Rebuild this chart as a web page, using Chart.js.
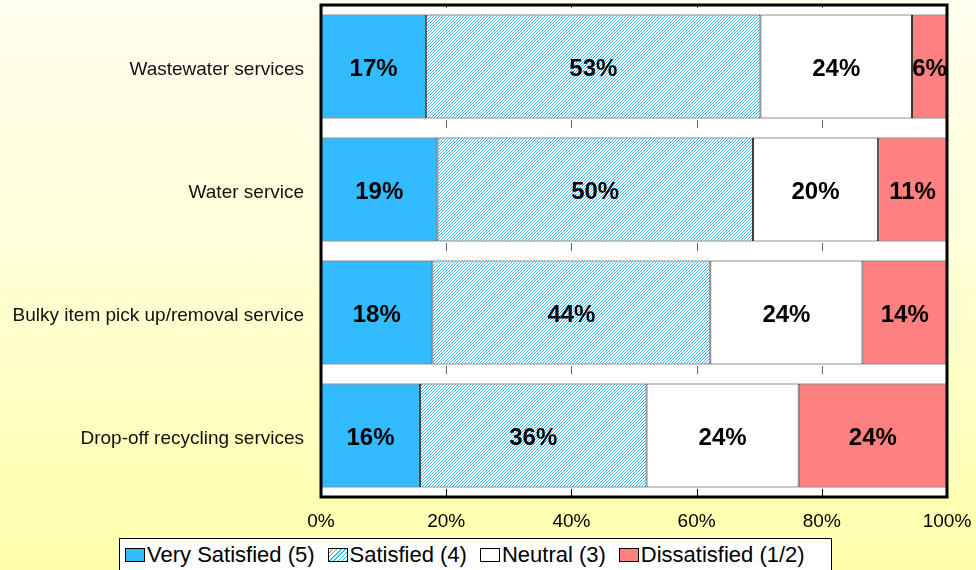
<!DOCTYPE html>
<html>
<head>
<meta charset="utf-8">
<script src="https://cdn.jsdelivr.net/npm/chart.js@4.4.1/dist/chart.umd.min.js"></script>
<style>
  html, body { margin: 0; padding: 0; }
  body { width: 976px; height: 570px; overflow: hidden; background: linear-gradient(to bottom, #FFFFEE 0%, #FFFFD8 45%, #FFFFAA 100%); font-family: "Liberation Sans", Arial, sans-serif; }
  #wrap { position: relative; width: 976px; height: 570px; }
  #legend { position: absolute; left: 119px; top: 538px; width: 711px; height: 31px; background: #fff; border: 1px solid #000; display: flex; align-items: center; font-size: 22px; color: #000; white-space: nowrap; }
  #legend .item { display: flex; align-items: center; margin-left: 5px; margin-right: 8px; }
  #legend .sw { width: 20px; height: 14px; border: 1px solid #000; margin-right: 2px; box-sizing: border-box; }
</style>
</head>
<body>
<div id="wrap">
  <canvas id="chart"></canvas>
  <div id="legend"></div>
</div>
<script>
// survey results (percent of respondents)
const categories = ["Wastewater services", "Water service", "Bulky item pick up/removal service", "Drop-off recycling services"];
const seriesNames = ["Very Satisfied (5)", "Satisfied (4)", "Neutral (3)", "Dissatisfied (1/2)"];
const verySatisfied = [16.8, 18.6, 17.8, 15.8];
const satisfied = [53.4, 50.4, 44.4, 36.2];
const neutral = [24.2, 20.0, 24.3, 24.3];
const dissatisfied = [5.6, 11.0, 13.5, 23.7];
const xTicks = [0, 20, 40, 60, 80, 100];

const FONT = "'Liberation Sans', Arial, sans-serif";
const BLUE = "#33BBFF", RED = "#FF8080";

// diagonal hatch for "Satisfied"
function hatch() {
    const c = document.createElement("canvas"); c.width = 6; c.height = 6;
    const g = c.getContext("2d");
    g.fillStyle = "#fff"; g.fillRect(0, 0, 6, 6);
    g.fillStyle = BLUE;
    for (let x = 0; x < 6; x++) { g.fillRect(x, 5 - x, 1, 1); g.fillRect(x, (8 - x) % 6, 1, 1); }
    return g.createPattern(c, "repeat");
}
const hatchFill = hatch();
const fills = [BLUE, hatchFill, "#FFFFFF", RED];

const noPad = s => { s.paddingTop = 0; s.paddingBottom = 0; s.paddingLeft = 0; s.paddingRight = 0; };

const plotBg = {
    id: "plotBg",
    beforeDraw(chart) {
        const { ctx, chartArea: a } = chart;
        ctx.save(); ctx.fillStyle = "#fff"; ctx.fillRect(a.left, a.top, a.right - a.left, a.bottom - a.top); ctx.restore();
    },
    afterDatasetsDraw(chart) {
        const { ctx, chartArea: a, scales } = chart;
        ctx.save();
        // little tick marks at each category boundary
        const y = scales.y, x = scales.x;
        const bounds = [];
        for (let i = 0; i < categories.length - 1; i++) bounds.push((y.getPixelForValue(i) + y.getPixelForValue(i + 1)) / 2);
        bounds.push(a.bottom);
        ctx.lineWidth = 1;
        xTicks.slice(1, -1).forEach(v => {
            const px = Math.round(x.getPixelForValue(v)) + 0.5;
            bounds.forEach((b, i) => {
                ctx.strokeStyle = i === bounds.length - 1 ? "#000" : "#666";
                ctx.beginPath(); ctx.moveTo(px, b - 8); ctx.lineTo(px, b); ctx.stroke();
            });
            ctx.strokeStyle = "#666";
            ctx.beginPath(); ctx.moveTo(px, a.top); ctx.lineTo(px, a.top + 3); ctx.stroke();
        });
        // value labels
        ctx.font = "bold 24px " + FONT; ctx.fillStyle = "#000"; ctx.textAlign = "center"; ctx.textBaseline = "middle";
        chart.data.datasets.forEach((ds, di) => {
            chart.getDatasetMeta(di).data.forEach((bar, i) => {
                ctx.fillText(Math.round(ds.data[i]) + "%", (bar.x + bar.base) / 2, bar.y + 3);
            });
        });
        // plot border
        ctx.strokeStyle = "#000"; ctx.lineWidth = 3;
        ctx.strokeRect(a.left, a.top, a.right - a.left, a.bottom - a.top);
        ctx.restore();
    }
};

const values = [verySatisfied, satisfied, neutral, dissatisfied];
new Chart(document.getElementById("chart"), {
    type: "bar",
    data: {
        labels: categories,
        datasets: seriesNames.map((n, i) => ({
            label: n, data: values[i], backgroundColor: fills[i],
            borderColor: "#222", borderWidth: 1, borderSkipped: false,
            barPercentage: 0.845, categoryPercentage: 1
        }))
    },
    options: {
        indexAxis: "y", responsive: true, maintainAspectRatio: false, animation: false,
        layout: { padding: { top: 5, right: 29, left: 0, bottom: 0 } },
        plugins: { legend: { display: false }, tooltip: { enabled: false } },
        scales: {
            x: {
                stacked: true, min: 0, max: 100,
                afterBuildTicks: s => { s.ticks = xTicks.map(v => ({ value: v })); },
                afterFit: s => { s.height = 73; noPad(s); },
                grid: { display: false, drawTicks: false }, border: { display: false },
                ticks: { callback: v => v + "%", font: { family: FONT, size: 19 }, color: "#000", padding: 13, maxRotation: 0 }
            },
            y: {
                stacked: true,
                afterFit: s => { s.width = 321; noPad(s); },
                grid: { display: false, drawTicks: false }, border: { display: false },
                ticks: { font: { family: FONT, size: 19 }, color: "#111", padding: 17, labelOffset: 3 }
            }
        }
    },
    plugins: [plotBg]
});

// legend box
const legend = document.getElementById("legend");
seriesNames.forEach((n, i) => {
    const item = document.createElement("div"); item.className = "item";
    const sw = document.createElement("span"); sw.className = "sw";
    if (i === 1) sw.style.background = "repeating-linear-gradient(-45deg, #33BBFF 0 1px, #fff 1px 3px)";
    else sw.style.background = i === 0 ? BLUE : i === 2 ? "#fff" : RED;
    const t = document.createElement("span"); t.textContent = n;
    item.appendChild(sw); item.appendChild(t); legend.appendChild(item);
});
</script>
</body>
</html>
